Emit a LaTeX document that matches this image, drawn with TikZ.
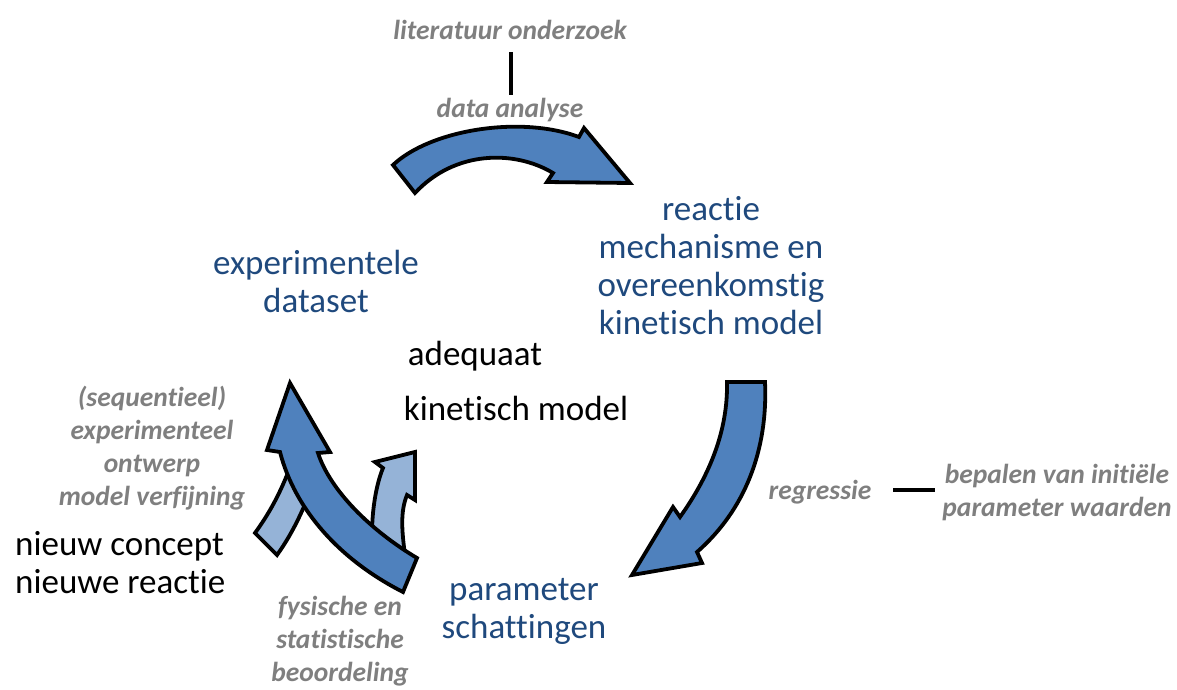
\documentclass[tikz,border=0pt]{standalone}
\usepackage{fontspec}
\setmainfont{Carlito}[Ligatures={NoCommon}]
\definecolor{darkarrow}{RGB}{79,129,189}
\definecolor{lightarrow}{RGB}{149,179,215}
\definecolor{bluetext}{RGB}{31,73,125}
\definecolor{graytext}{RGB}{127,127,127}
\begin{document}
\begin{tikzpicture}[x=1pt,y=-1pt,
  bigarrow/.style={draw=black,line width=3.8pt,line join=miter,fill=darkarrow},
  smallarrow/.style={draw=black,line width=3.8pt,line join=miter,fill=lightarrow},
  bluelabel/.style={inner sep=0pt,align=center,text=bluetext,font=\fontsize{35}{38}\selectfont},
  blacklabel/.style={inner sep=0pt,align=center,text=black,font=\fontsize{35}{38}\selectfont},
  graylabel/.style={inner sep=0pt,align=center,text=graytext,font=\fontsize{27.5}{33}\selectfont\bfseries\itshape},
  connector/.style={draw=black,line width=3.2pt}]
\useasboundingbox (0,0) rectangle (1177,689);
% top arrow
\path[bigarrow] (393,165) .. controls (430,130) and (520,115) .. (579,137) -- (584,128) -- (630,183) -- (547,182) -- (553,173) .. controls (515,150) and (455,150) .. (415,193) -- cycle;
% right arrow
\path[bigarrow] (727,382) -- (765,382) .. controls (768,450) and (745,510) .. (697,552) -- (702,563) -- (632,575) -- (673,507) -- (680,517) .. controls (710,475) and (728,430) .. cycle;
% light arrows
\path[smallarrow] (255,533) .. controls (268,515) and (280,495) .. (292,462) -- (315,480) .. controls (305,505) and (295,530) .. (277,555) -- cycle;
\path[smallarrow] (372,535) .. controls (372,510) and (376,485) .. (383,468) -- (375,462) -- (415,452) -- (415,500) -- (407,495) .. controls (400,512) and (402,532) .. (405,555) -- cycle;
% left dark arrow
\path[bigarrow] (290,383) -- (330,452) -- (318,453) .. controls (330,490) and (370,530) .. (417,558) -- (403,592) .. controls (340,560) and (295,510) .. (280,452) -- (267,450) -- cycle;
% labels
\node[graylabel] (lit) at (510,30) {literatuur onderzoek};
\node[graylabel] (data) at (510,110) {data analyse};
\coordinate (litbot) at (511,52);
\coordinate (datatop) at (511,95);
\draw[connector] (litbot) -- (datatop);
\node[bluelabel] (reactie) at (711,266) {reactie\\mechanisme en\\overeenkomstig\\kinetisch model};
\node[bluelabel] (exp) at (316,281) {experimentele\\dataset};
\node[blacklabel] (adeq) at (475,356) {adequaat};
\node[blacklabel] (kin) at (516,408) {kinetisch model};
\node[graylabel] (seq) at (152,448) {(sequentieel)\\experimenteel\\ontwerp\\model verfijning};
\node[blacklabel,anchor=west,align=left] (nieuw) at (15,563) {nieuw concept\\nieuwe reactie};
\node[graylabel] (fys) at (340,641) {fysische en\\statistische\\beoordeling};
\node[bluelabel] (par) at (524,611) {parameter\\schattingen};
\node[graylabel] (reg) at (820,492) {regressie};
\node[graylabel] (bep) at (1057,493) {bepalen van initiële\\parameter waarden};
\coordinate (regend) at (893,490);
\coordinate (bepend) at (935,490);
\draw[connector] (regend) -- (bepend);
\end{tikzpicture}
\end{document}
